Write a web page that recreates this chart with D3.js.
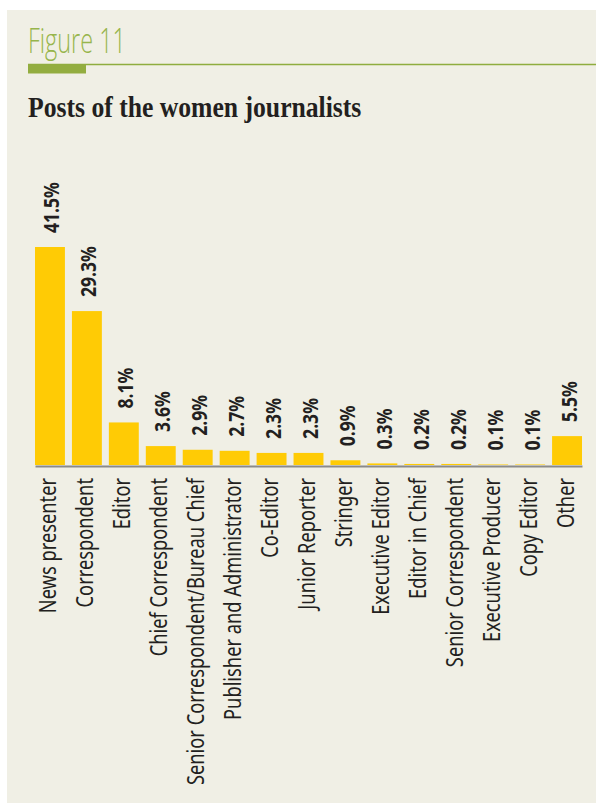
<!DOCTYPE html>
<html>
<head>
<meta charset="utf-8">
<script src="https://cdn.jsdelivr.net/npm/d3@7"></script>
<style>
  html, body { margin: 0; padding: 0; background: #ffffff; }
  svg { display: block; }
</style>
</head>
<body>
<script>
// Posts held by women journalists, share of respondents (%)
const posts = [
  "News presenter", "Correspondent", "Editor", "Chief Correspondent",
  "Senior Correspondent/Bureau Chief", "Publisher and Administrator",
  "Co-Editor", "Junior Reporter", "Stringer", "Executive Editor",
  "Editor in Chief", "Senior Correspondent", "Executive Producer",
  "Copy Editor", "Other"
];
const shares = [41.5, 29.3, 8.1, 3.6, 2.9, 2.7, 2.3, 2.3, 0.9, 0.3, 0.2, 0.2, 0.1, 0.1, 5.5];

const W = 596, H = 803;
const svg = d3.select("body").append("svg").attr("width", W).attr("height", H);

// Panel background
svg.append("rect").attr("x", 7).attr("y", 10).attr("width", W - 7).attr("height", H - 10)
  .attr("fill", "#f0efe5");

// Figure heading with rule
svg.append("text")
  .attr("transform", "translate(28,53) scale(0.69,1)")
  .attr("font-family", "'Open Sans', 'Noto Sans', sans-serif")
  .attr("font-weight", 300)
  .attr("font-size", 34)
  .attr("fill", "#97b54c")
  .text("Figure 11");
svg.append("line").attr("x1", 28).attr("x2", W).attr("y1", 64.5).attr("y2", 64.5)
  .attr("stroke", "#8fad3f").attr("stroke-width", 1.5);
svg.append("rect").attr("x", 28).attr("y", 64.5).attr("width", 58).attr("height", 9)
  .attr("fill", "#93ad40");

svg.append("text")
  .attr("transform", "translate(28,117) scale(0.87,1)")
  .attr("font-family", "'Liberation Serif', 'Times New Roman', serif")
  .attr("font-weight", "bold")
  .attr("font-size", 29.5)
  .attr("fill", "#231f20")
  .text("Posts of the women journalists");

// Scales
const x = d3.scaleBand().domain(posts).range([35, 582]).paddingInner(0.19).paddingOuter(0);
const y = d3.scaleLinear().domain([0, 41.5]).range([465, 247]);

const data = posts.map((p, i) => ({ post: p, value: shares[i] }));

// Bars
svg.append("g").selectAll("rect").data(data).join("rect")
  .attr("x", d => x(d.post))
  .attr("width", x.bandwidth())
  .attr("y", d => y(d.value))
  .attr("height", d => y(0) - y(d.value))
  .attr("fill", "#ffcb05");

// Value labels, rotated
svg.append("g").selectAll("text").data(data).join("text")
  .attr("transform", d => `translate(${x(d.post) + x.bandwidth() / 2 + 9.5},${y(d.value) - 14}) rotate(-90) scale(0.8,1)`)
  .attr("font-family", "'Noto Sans', 'Open Sans', sans-serif")
  .attr("font-weight", "bold")
  .attr("font-size", 22)
  .attr("fill", "#231f20")
  .text(d => d.value.toFixed(1) + "%");

// Category axis
const axis = svg.append("g")
  .attr("transform", `translate(0,${y(0) + 1})`)
  .call(d3.axisBottom(x).tickSize(0).tickSizeOuter(0));
axis.select(".domain").attr("stroke", "#8a8a8a").attr("stroke-width", 2);
axis.selectAll(".tick text")
  .attr("x", 0).attr("y", 0).attr("dy", 0)
  .attr("transform", "translate(6.5,12) rotate(-90) scale(0.795,1)")
  .attr("text-anchor", "end")
  .attr("font-family", "'Noto Sans', 'Open Sans', sans-serif")
  .attr("font-size", 23)
  .attr("fill", "#231f20");
</script>
</body>
</html>
